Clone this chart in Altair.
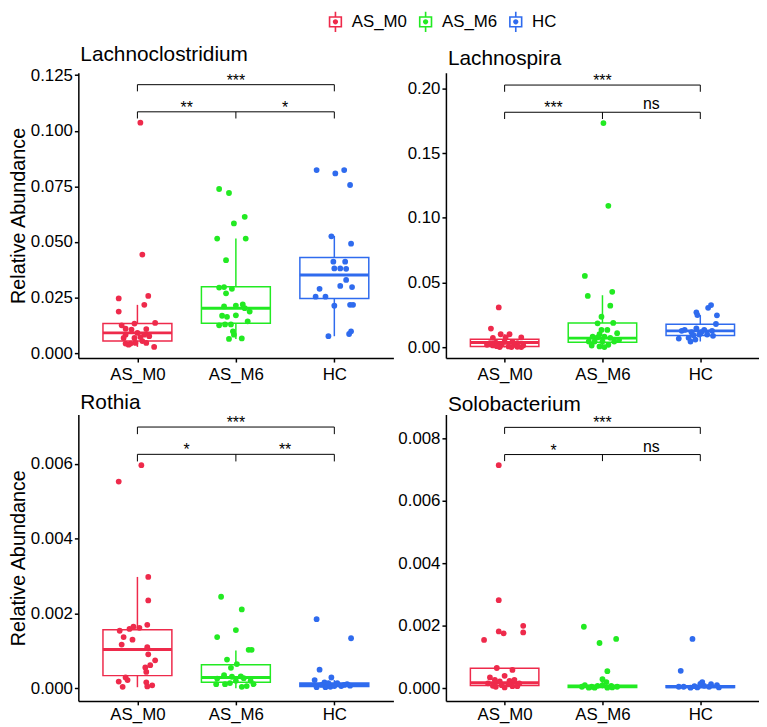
import altair as alt
import pandas as pd

FONT = "Liberation Sans"
GROUPS = ["AS_M0", "AS_M6", "HC"]
COLORS = ["#EE2A4B", "#22EA22", "#2F6BEE"]
TAXA = ["Lachnoclostridium", "Lachnospira", "Rothia", "Solobacterium"]

# ---------------- Lachnoclostridium ----------------
lachnoclo_m0_val = [0.1036, 0.0443, 0.0257, 0.0246, 0.0217, 0.0187, 0.0136, 0.0133, 0.0125, 0.0110,
                    0.0108, 0.0106, 0.0091, 0.0083, 0.0083, 0.0076, 0.0072, 0.0068, 0.0068, 0.0054,
                    0.0046, 0.0046, 0.0043, 0.0043, 0.0038, 0.0028]
lachnoclo_m0_jit = [0.03, 0.05, 0.11, -0.19, 0.07, -0.19, 0.18, -0.03, -0.16, -0.12,
                    0.09, -0.06, 0.00, -0.12, 0.07, 0.12, 0.03, -0.03, -0.14, 0.05,
                    -0.02, 0.09, -0.12, -0.07, -0.09, 0.17]
lachnoclo_m6_val = [0.0738, 0.0720, 0.0613, 0.0583, 0.0515, 0.0515, 0.0418, 0.0295, 0.0297, 0.0289,
                    0.0269, 0.0219, 0.0214, 0.0210, 0.0202, 0.0187, 0.0170, 0.0168, 0.0163, 0.0143,
                    0.0129, 0.0129, 0.0125, 0.0098, 0.0083, 0.0066, 0.0064]
lachnoclo_m6_jit = [-0.17, -0.07, 0.09, -0.02, -0.19, 0.10, -0.10, -0.17, -0.12, -0.04,
                    -0.10, 0.07, 0.00, -0.12, 0.09, 0.14, 0.00, -0.14, -0.09, 0.12,
                    -0.11, -0.05, -0.17, -0.03, -0.02, 0.06, -0.07]
lachnoclo_hc_val = [0.0823, 0.0808, 0.0823, 0.0756, 0.0525, 0.0492, 0.0411, 0.0411, 0.0381, 0.0381,
                    0.0379, 0.0329, 0.0302, 0.0297, 0.0289, 0.0254, 0.0254, 0.0213, 0.0217, 0.0217,
                    0.0098, 0.0086, 0.0076]
lachnoclo_hc_jit = [-0.18, 0.01, 0.10, 0.16, -0.03, 0.17, -0.01, 0.11, 0.00, 0.06,
                    0.12, 0.12, 0.06, 0.18, -0.15, -0.19, -0.09, 0.00, 0.16, 0.19,
                    0.17, 0.15, -0.06]
lachnoclo_lo = [0.0028, 0.0064, 0.0076]
lachnoclo_q1 = [0.0054, 0.0134, 0.0246]
lachnoclo_med = [0.0091, 0.0202, 0.0351]
lachnoclo_q3 = [0.0133, 0.0298, 0.0430]
lachnoclo_hi = [0.0217, 0.0515, 0.0527]

# ---------------- Lachnospira ----------------
lachnosp_m0_val = [0.0309, 0.0146, 0.0102, 0.0102, 0.0077, 0.0074, 0.0077, 0.0043, 0.0043, 0.0038,
                   0.0033, 0.0033, 0.0020, 0.0016, 0.0020, 0.0008, 0.0020, 0.0016, 0.0003, 0.0003,
                   0.0003, 0.0010, 0.0005]
lachnosp_m0_jit = [-0.06, -0.14, -0.04, 0.05, 0.01, -0.12, 0.17, 0.00, 0.08, -0.09,
                   0.13, -0.15, -0.18, -0.12, -0.03, 0.04, 0.10, 0.19, -0.05, 0.07,
                   0.17, -0.08, 0.13]
lachnosp_m6_val = [0.1732, 0.1093, 0.0552, 0.0429, 0.0398, 0.0322, 0.0237, 0.0186, 0.0189, 0.0135,
                   0.0135, 0.0110, 0.0102, 0.0084, 0.0084, 0.0074, 0.0077, 0.0059, 0.0046, 0.0046,
                   0.0046, 0.0046, 0.0015, 0.0008, 0.0020, 0.0003]
lachnosp_m6_jit = [0.01, 0.06, -0.18, 0.10, -0.15, 0.08, -0.01, -0.05, 0.11, 0.05,
                   -0.01, 0.15, -0.03, -0.10, 0.02, 0.08, -0.05, 0.17, -0.14, -0.08,
                   0.00, 0.12, -0.11, -0.03, 0.06, 0.02]
lachnosp_hc_val = [0.0327, 0.0306, 0.0271, 0.0250, 0.0248, 0.0181, 0.0148, 0.0135, 0.0135, 0.0128,
                   0.0118, 0.0128, 0.0100, 0.0100, 0.0074, 0.0069, 0.0061, 0.0046, 0.0118, 0.0090,
                   0.0095]
lachnosp_hc_jit = [0.11, 0.08, -0.04, -0.03, 0.17, 0.16, -0.04, -0.16, 0.04, 0.12,
                   -0.09, -0.19, -0.01, 0.07, -0.12, -0.22, -0.05, -0.10, 0.01, 0.13,
                   -0.07]
lachnosp_lo = [0.0000, 0.0003, 0.0046]
lachnosp_q1 = [0.0008, 0.0041, 0.0092]
lachnosp_med = [0.0038, 0.0072, 0.0128]
lachnosp_q3 = [0.0064, 0.0189, 0.0179]
lachnosp_hi = [0.0102, 0.0403, 0.0250]

# ---------------- Rothia ----------------
rothia_m0_val = [0.00597, 0.00553, 0.00298, 0.00235, 0.00170, 0.00154, 0.00159, 0.00165, 0.00162, 0.00137,
                 0.00130, 0.00117, 0.00110, 0.00091, 0.00075, 0.00062, 0.00056, 0.00044, 0.00029, 0.00018,
                 0.00004, 0.00016, 0.00008, 0.00005, 0.00022]
rothia_m0_jit = [0.04, -0.19, 0.11, 0.11, 0.10, -0.18, -0.08, -0.04, 0.02, -0.14,
                 -0.05, -0.16, 0.10, 0.11, 0.18, 0.13, 0.08, 0.09, -0.12, -0.19,
                 -0.15, 0.09, 0.15, 0.10, -0.10]
rothia_m6_val = [0.00245, 0.00211, 0.00156, 0.00137, 0.00103, 0.00103, 0.00077, 0.00065, 0.00055, 0.00035,
                 0.00031, 0.00032, 0.00027, 0.00026, 0.00020, 0.00020, 0.00011, 0.00004, 0.00006, 0.00011,
                 0.00014, 0.00011]
rothia_m6_jit = [-0.15, 0.06, 0.00, -0.19, 0.13, 0.16, -0.09, 0.01, -0.05, -0.12,
                 -0.04, 0.05, 0.08, -0.19, 0.00, 0.15, -0.11, 0.06, 0.11, -0.20,
                 -0.06, 0.18]
rothia_hc_val = [0.00185, 0.00134, 0.00050, 0.00029, 0.00022, 0.00016, 0.00014, 0.00009, 0.00007, 0.00003,
                 0.00003, 0.00004, 0.00006, 0.00009, 0.00011, 0.00006, 0.00014]
rothia_hc_jit = [-0.18, 0.17, -0.15, -0.03, -0.20, -0.10, 0.03, 0.10, 0.16, -0.18,
                 -0.09, -0.04, 0.07, -0.13, 0.13, 0.00, -0.06]
rothia_lo = [0.00003, 0.00000, 0.00002]
rothia_q1 = [0.00034, 0.00016, 0.00005]
rothia_med = [0.00104, 0.00029, 0.00010]
rothia_q3 = [0.00157, 0.00063, 0.00014]
rothia_hi = [0.00298, 0.00101, 0.00022]

# ---------------- Solobacterium ----------------
solo_m0_val = [0.00714, 0.00282, 0.00200, 0.00179, 0.00182, 0.00176, 0.00155, 0.00065, 0.00059, 0.00035,
               0.00040, 0.00027, 0.00022, 0.00024, 0.00027, 0.00016, 0.00008, 0.00003, 0.00007, 0.00007,
               0.00016, 0.00010, 0.00013, 0.00005]
solo_m0_jit = [-0.06, -0.06, 0.19, 0.19, -0.06, -0.01, -0.21, -0.08, 0.08, -0.15,
               0.00, -0.10, -0.05, 0.05, 0.10, 0.15, -0.12, 0.00, 0.08, 0.13,
               -0.17, -0.03, 0.04, -0.09]
solo_m6_val = [0.00197, 0.00145, 0.00158, 0.00055, 0.00029, 0.00020, 0.00010, 0.00005, 0.00008, 0.00008,
               0.00005, 0.00010, 0.00002, 0.00002, 0.00005, 0.00002, 0.00003]
solo_m6_jit = [-0.19, -0.03, 0.14, 0.05, 0.00, 0.04, -0.18, -0.11, -0.05, 0.09,
               0.15, 0.00, -0.14, 0.05, -0.21, -0.08, 0.10]
solo_hc_val = [0.00158, 0.00056, 0.00020, 0.00010, 0.00005, 0.00002, 0.00003, 0.00008, 0.00005, 0.00003,
               0.00005, 0.00014, 0.00007, 0.00013]
solo_hc_jit = [-0.08, -0.20, 0.02, 0.17, -0.17, -0.10, -0.03, 0.04, 0.09, 0.19,
               -0.22, 0.00, -0.06, 0.11]
solo_lo = [0.00003, 0.00000, 0.00000]
solo_q1 = [0.00009, 0.00003, 0.00003]
solo_med = [0.00018, 0.00006, 0.00005]
solo_q3 = [0.00064, 0.00010, 0.00008]
solo_hi = [0.00065, 0.00020, 0.00014]

# significance brackets: [M0 vs M6, M6 vs HC, M0 vs HC]
sig_labels = [["**", "*", "***"], ["***", "ns", "***"], ["*", "**", "***"], ["*", "ns", "***"]]
bracket_top = [0.1207, 0.2025, 0.00699, 0.00835]
bracket_low = [0.1085, 0.1815, 0.00626, 0.00748]
bracket_tip = [0.0030, 0.0052, 0.00019, 0.00021]

# y axes
y_domains = [[-0.00223, 0.12607], [-0.0082, 0.2120], [-0.000336, 0.007324], [-0.000402, 0.00876]]
y_ticks = [[0, 0.025, 0.05, 0.075, 0.1, 0.125], [0, 0.05, 0.1, 0.15, 0.2],
           [0, 0.002, 0.004, 0.006], [0, 0.002, 0.004, 0.006, 0.008]]
y_formats = [".3f", ".2f", ".3f", ".3f"]

BOX_HALF = 0.35
CSCALE = alt.Scale(domain=GROUPS, range=COLORS)
XSCALE = alt.Scale(domain=[0.4, 3.6], nice=False, zero=False)
LABEL_EXPR = "[" + ",".join("'%s'" % g for g in GROUPS) + "][datum.value - 1]"

GLYPH = ("M-0.66,-0.56 L0.66,-0.56 L0.66,0.56 L-0.66,0.56 Z "
         "M-0.50,-0.40 L-0.50,0.40 L0.50,0.40 L0.50,-0.40 Z "
         "M-0.08,-1 L0.08,-1 L0.08,-0.56 L-0.08,-0.56 Z "
         "M-0.08,0.56 L0.08,0.56 L0.08,1 L-0.08,1 Z "
         "M-0.26,0 A0.26,0.26 0 1 0 0.26,0 A0.26,0.26 0 1 0 -0.26,0 Z")

LEGEND = alt.Legend(orient="none", legendX=249, legendY=-62, direction="horizontal", title=None,
                    symbolType=GLYPH, symbolSize=420, symbolStrokeWidth=0, labelFont=FONT,
                    labelFontSize=17, labelColor="black", labelOffset=6, columnPadding=8, padding=0)


def pts_frame(vals, jits):
    rows = []
    for gi in range(3):
        for v, j in zip(vals[gi], jits[gi]):
            rows.append({"group": GROUPS[gi], "xj": gi + 1 + j, "val": v})
    return pd.DataFrame(rows)


def box_frame(lo, q1, med, q3, hi):
    pos = [1, 2, 3]
    return pd.DataFrame({"group": GROUPS, "pos": pos,
                         "x1": [p - BOX_HALF for p in pos], "x2": [p + BOX_HALF for p in pos],
                         "lo": lo, "q1": q1, "med": med, "q3": q3, "hi": hi})


def bracket_frames(k):
    yt, yl, tp = bracket_top[k], bracket_low[k], bracket_tip[k]
    segs = [(1, 3, yt, yt), (1, 1, yt, yt - tp), (3, 3, yt, yt - tp),
            (1, 3, yl, yl), (1, 1, yl, yl - tp), (2, 2, yl, yl - tp), (3, 3, yl, yl - tp)]
    seg_df = pd.DataFrame(segs, columns=["bx1", "bx2", "by1", "by2"])
    labs = sig_labels[k]
    txt_df = pd.DataFrame({"tx": [1.5, 2.5, 2.0], "ty": [yl, yl, yt], "lab": labs})
    txt_df["ns"] = txt_df["lab"] == "ns"
    return seg_df, txt_df


def panel(k, vals, jits, stats, width, height, ytitle, title_gap, xlab_pad, legend):
    ysc = alt.Scale(domain=y_domains[k], nice=False, zero=False)
    xax = alt.Axis(values=[1, 2, 3], labelExpr=LABEL_EXPR, title=None, grid=False,
                   labelFlush=False, labelOverlap=False, labelPadding=xlab_pad)
    yax = alt.Axis(values=y_ticks[k], format=y_formats[k], title=ytitle, grid=False,
                   labelFlush=False, labelOverlap=False)

    def X(f):
        return alt.X(f + ":Q", scale=XSCALE, axis=xax)

    def Y(f):
        return alt.Y(f + ":Q", scale=ysc, axis=yax)

    stroke = alt.Stroke("group:N", scale=CSCALE, legend=None)
    bdf = box_frame(*stats)
    base = alt.Chart(bdf)
    whisk = base.mark_rule(strokeWidth=1.5).encode(x=X("pos"), y=Y("lo"), y2="hi:Q", stroke=stroke)
    box = base.mark_rect(fill="white", strokeWidth=1.5).encode(
        x=X("x1"), x2="x2:Q", y=Y("q1"), y2="q3:Q", stroke=stroke)
    med = base.mark_rule(strokeWidth=3).encode(x=X("x1"), x2="x2:Q", y=Y("med"), y2="med:Q", stroke=stroke)
    pts = alt.Chart(pts_frame(vals, jits)).mark_circle(size=34, opacity=1).encode(
        x=X("xj"), y=Y("val"), color=alt.Color("group:N", scale=CSCALE, legend=legend))
    seg_df, txt_df = bracket_frames(k)
    br = alt.Chart(seg_df).mark_rule(color="black", strokeWidth=1).encode(
        x=X("bx1"), x2="bx2:Q", y=Y("by1"), y2="by2:Q")
    stars = alt.Chart(txt_df).transform_filter("!datum.ns").mark_text(
        font=FONT, fontSize=16, color="black", baseline="alphabetic", dy=1).encode(
        x=X("tx"), y=Y("ty"), text="lab:N")
    ns = alt.Chart(txt_df).transform_filter("datum.ns").mark_text(
        font=FONT, fontSize=16, color="black", baseline="alphabetic", dy=-3).encode(
        x=X("tx"), y=Y("ty"), text="lab:N")
    ttl = alt.Chart(pd.DataFrame({"t": [TAXA[k]]})).mark_text(
        font=FONT, fontSize=21, color="black", align="left", baseline="alphabetic").encode(
        x=alt.value(2), y=alt.value(-title_gap), text="t:N")
    return alt.layer(whisk, box, med, pts, br, stars, ns, ttl).properties(width=width, height=height)


p1 = panel(0, [lachnoclo_m0_val, lachnoclo_m6_val, lachnoclo_hc_val],
           [lachnoclo_m0_jit, lachnoclo_m6_jit, lachnoclo_hc_jit],
           [lachnoclo_lo, lachnoclo_q1, lachnoclo_med, lachnoclo_q3, lachnoclo_hi],
           318, 288, "Relative Abundance", 12, 5, LEGEND)
p2 = panel(1, [lachnosp_m0_val, lachnosp_m6_val, lachnosp_hc_val],
           [lachnosp_m0_jit, lachnosp_m6_jit, lachnosp_hc_jit],
           [lachnosp_lo, lachnosp_q1, lachnosp_med, lachnosp_q3, lachnosp_hi],
           316, 288, None, 8, 5, None)
p3 = panel(2, [rothia_m0_val, rothia_m6_val, rothia_hc_val],
           [rothia_m0_jit, rothia_m6_jit, rothia_hc_jit],
           [rothia_lo, rothia_q1, rothia_med, rothia_q3, rothia_hi],
           318, 289, "Relative Abundance", 6, 2, None)
p4 = panel(3, [solo_m0_val, solo_m6_val, solo_hc_val],
           [solo_m0_jit, solo_m6_jit, solo_hc_jit],
           [solo_lo, solo_q1, solo_med, solo_q3, solo_hi],
           316, 289, None, 4, 2, None)

chart = alt.concat(p1, p2, p3, p4, columns=2, spacing={"row": 57, "column": 53},
                   bounds="flush").resolve_legend(color="independent").properties(
    padding=0).configure_view(stroke=None).configure_axis(
    domainColor="black", domainWidth=1.5, tickColor="black", tickWidth=1.5, tickSize=4,
    labelColor="black", labelFont=FONT, labelFontSize=17, labelPadding=2,
    titleFont=FONT, titleFontSize=20, titleColor="black", titleFontWeight="normal", titlePadding=2)

chart.save("out.html", embed_options={"renderer": "svg", "actions": False})
